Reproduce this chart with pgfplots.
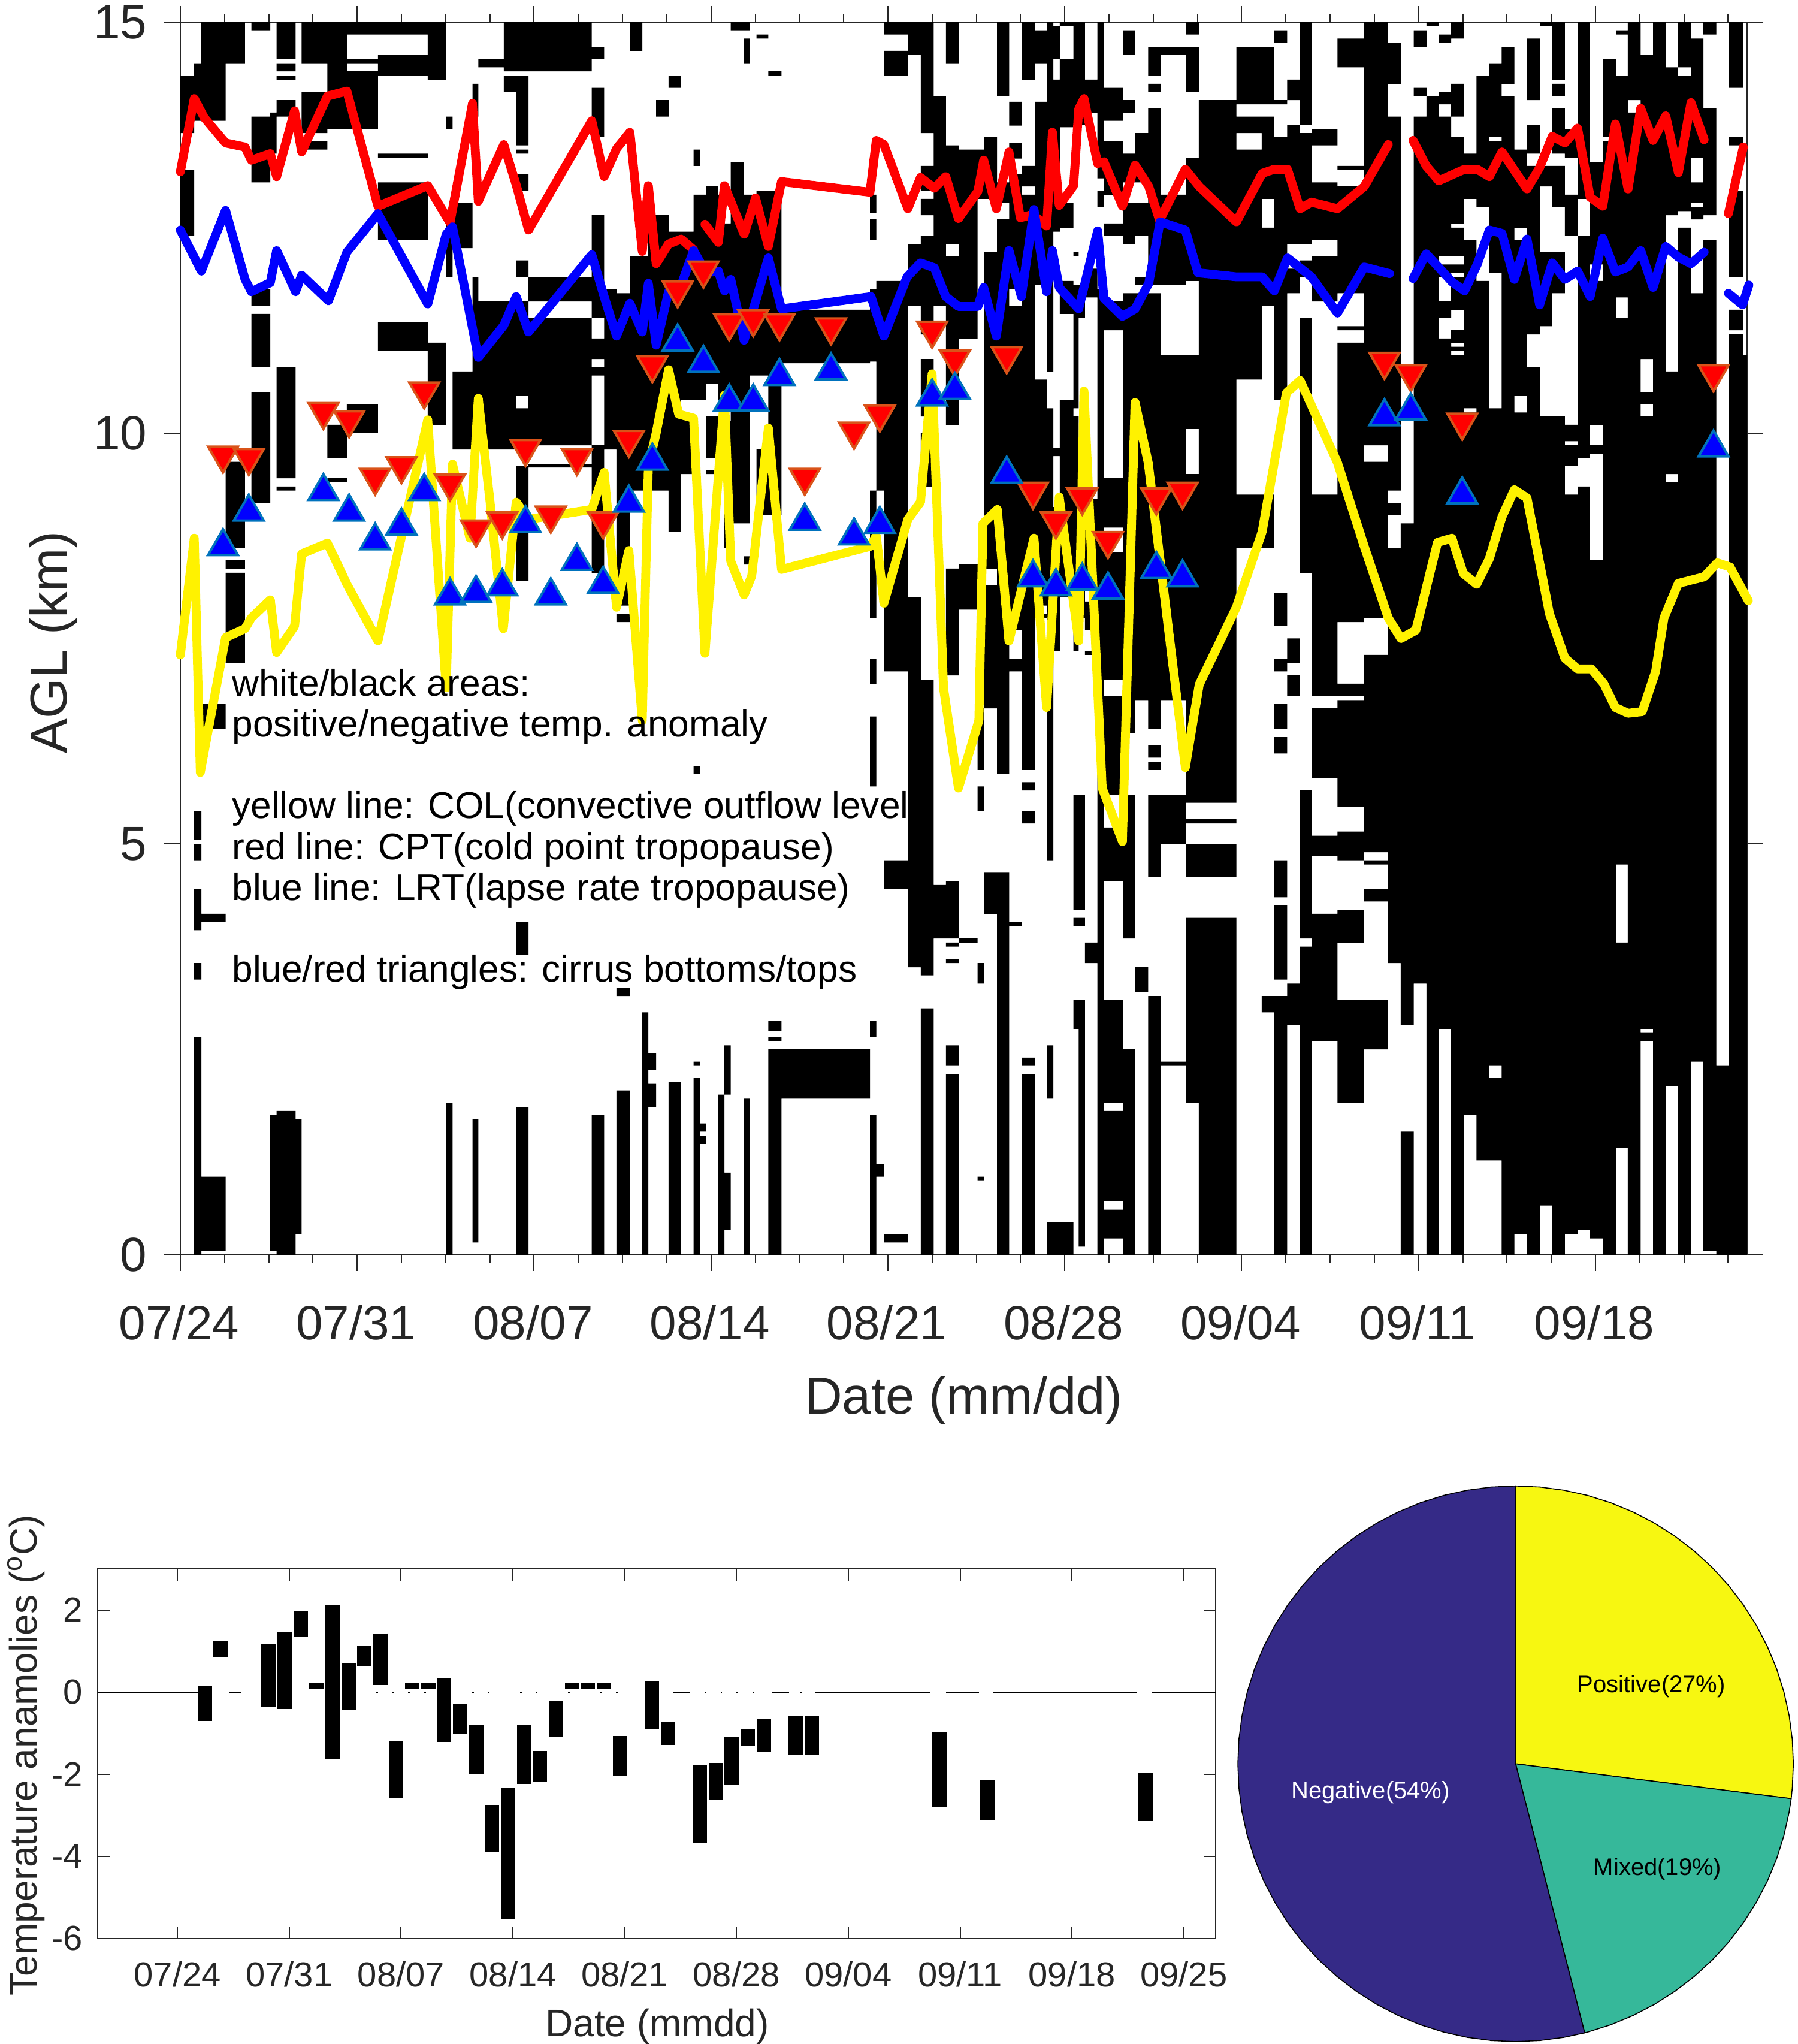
\documentclass[border=0pt]{standalone}
\usepackage{fontspec}
\setmainfont{Liberation Sans}
\usepackage{pgfplots}
\pgfplotsset{compat=1.18}
\usetikzlibrary{plotmarks}
\definecolor{axgray}{gray}{0.15}
\definecolor{pieblue}{RGB}{53,42,135}
\definecolor{pieteal}{RGB}{54,184,154}
\definecolor{pieyellow}{RGB}{247,247,17}
\definecolor{redge}{RGB}{217,83,25}
\definecolor{bedge}{RGB}{0,114,189}

% black cells of the anomaly image: from day / to day / {top km / bottom km, ...}
\def\cells{
0/.55/{14.35/13.65,13.2/12.4},
.55/.83/{14.5/13.8,5.4/5.05,5/4.8,4.45/3.95,3.55/3.35,2.65/0},
.83/1.79/{15/13.8,6.7/6.4,4.15/4.05,.95/.05},
1.79/2.56/{15/14.5,9.65/8.6,8.45/8.35,8.3/7.2},
2.81/3.56/{15/14.9,13.85/13.05,11.75/11.55,11.45/10.8,10.5/9.15},
3.56/3.81/{13.9/13.4,1.7/.05},
3.81/4.56/{15/14.55,14.5/14.4,14.35/14.3,14.05/13.85,10.8/9.45,9.35/9.3,1.75/0},
4.56/4.8/{1.65/.25},
4.8/5.82/{15/14.5,14.15/13.65,13.55/13.45},
5.82/6.59/{15/13.7,10.1/9.7,9.45/9.4},
6.59/7.82/{15/14.85,14.55/14.5,14.4/13.7,10.35/10},
7.82/9.79/{15/14.85,14.6/14.35,13.4/13.35,13.05/12.35,11.35/11},
9.79/10.52/{15/14.3,11.1/10.1},
10.52/10.77/{13.85/13.7,12.65/11.9,1.85/0},
10.77/11.56/{12.8/12.25,10.75/9.8},
11.56/11.79/{14.25/13.85,11.9/9.8,1.65/.15},
11.79/12.8/{14.55/14.45,11.6/9.8},
12.8/13.29/{15/14.4,14.35/14.15,11.6/9.8},
13.29/13.78/{15/14.4,14.35/13.5,13.45/13.4,13.15/12.95,12.1/11.9,11.6/10.45,10.3/9.8,9.6/8.2,4.05/3.65,1.8/0},
13.78/16.28/{15/14.4,11.9/11.6,11.4/9.85,9.62/9.58},
16.28/16.77/{14.7/14.55,14.2/13.6,12.65/11.4,11.15/10.9,10.8/10.7,9.85/8.3,1.7/0},
16.77/17.26/{11.75/9.8},
17.26/17.79/{11.7/7.9,7.8/7.7,3.25/3.15,2/0},
17.79/18.28/{15/14.65,12.15/9.3},
18.28/18.52/{12.15/9.3,2.95/0},
18.52/18.83/{12.65/9.3,2.45/2.25,2.08/1.8},
18.83/19.32/{14.05/13.85,12.65/9.3},
19.32/19.82/{14.35/14.2,12.45/8.8,2.1/0},
19.82/20.31/{12.45/10.4,10.2/9.5},
20.31/20.56/{13.45/13.25,12.9/10.4,5.95/5.85,2.35/2.3,2.15/0},
20.56/20.8/{12.9/10.4,1.6/1.5,1.45/1.35},
20.8/21.29/{13/10.6,10.2/9.7,9.55/9.5},
21.29/21.53/{12.9/10.4,1.95/0},
21.53/21.78/{12.55/10.4,10.15/8.6,2.55/1.95,1/.3},
21.78/22.31/{15/14.9,13.3/8.9},
22.31/22.53/{15/14.9,14.8/14.5,12.9/8.9,8.5/8.4,1.9/0},
22.53/22.8/{12.9/10.7},
22.8/23.27/{14.85/14.8,12.95/10.7,9.8/9},
23.27/23.79/{14.4/14.35,12.95/9,2.85/2.72,2.65/2.6,2.5/0},
23.79/27.29/{11.5/10.85,2.5/1.9},
27.29/27.54/{12.9/12.68,12.6/12.35,11.75/10.87,9.3/7.75,7.25/6.95,6.55/5.7,2.85/2.65,1.7/0},
27.54/27.84/{11.85/9.3,1.1/.95},
27.84/28.8/{15/14.85,14.65/14.35,11.85/7.1,4.8/4.45,.25/.15},
28.8/29.3/{15/14.6,12.3/11.55,8/3.5},
29.3/29.81/{15/13.65,13.25/12.95,12.85/12.65,12.4/11.2,10.9/10.2,10/9.35,7/3.4,3/0},
29.81/30.3/{14.1/11.55,4.5/3.85},
30.3/30.8/{15/14.5,13.5/12.3,12.15/10.1,8.35/7.05,4.55/3.85,3.8/3.75,3.6/3.55,2.55/2.3,2.2/0},
30.8/31.55/{13.45/11.15,8.4/7.85,3.85/3.8},
31.55/31.8/{13.45/12.85,8.4/7.85,6.65/5.9,5.7/5.4,3.55/3.3,.95/.9},
31.8/32.32/{13.6/12.85,12.2/8.35,8.15/6.65,4.65/4.15},
32.32/32.8/{15/14.1,13.05/12.8,12.6/5.85,4.65/0},
32.8/33.29/{14.03/13.74,13.53/13.34,13.15/11.75,11.55/7.6,7.25/7.1,4.05/4},
33.29/33.81/{15/14.3,13.25/13,12.9/5.9,5.75/5.65,5.4/5.25,2.4/2.3,2.2/0},
33.81/34.3/{14.9/14.5,14.03/11.8,10.65/7.9,7.8/7.75},
34.3/34.55/{15/10.75,10.3/4.8,2.55/1.9,.4/0},
34.55/34.8/{14.95/14.55,14.3/12.45,9.82/9.72,9.1/7.35,.4/0},
34.8/35.34/{15/14.95,14.55/13.72,12.8/12.5,11.85/11.45,10.4/8,.4/0},
35.34/35.55/{15/13.75,12.2/12.15,11.8/10.3,10.2/7.35,5.6/4.2,4.1/4,3.1/2.75},
35.55/35.8/{15/13.75,11.8/11.4,9/7.75,5.6/4.2,4.1/4,3.1/.1},
35.8/36.29/{14.3/13.9,12/11.65,9.2/8.1,7.95/7.6,7.35/7.3,3.8/3.55},
36.29/36.54/{15/13.1,12.95/12.75,11.75/0},
36.54/37.3/{14.2/13.8,13.55/12.9,12.55/12.4,11.6/11.25,9.45/8.85,8.55/7,6.8/5.6,5.2/4.55,3.1/1.85,1.75/.65,.55/.2},
37.3/37.79/{14.9/14.6,14.05/13.9,13.4/13.05,12.8/12.3,11.7/6.35,5.6/3.85,2.5/0},
37.79/38.3/{13.65/13.05,12.8/12.4,11.9/11.8,11.7/6.75,3.5/3.2},
38.3/38.79/{14.7/14.35,14.25/14.15,13.95/11.8,11.7/6.4,6.2/6.05,6/5.9,5.6/4.6,3.15/0},
38.79/39.8/{14.7/14.6,12.9/11.8,10.95/6.75,5.6/5,2.35/2.3},
39.8/40.3/{15/14.85,14.7/14.15,13.35/11.85,10.95/10.05,9.5/5.5,5.3/5.25,5/4.6,4.1/1.85},
40.3/41.79/{14.05/5.5,5.3/5.25,5/4.6,4.1/0},
41.79/42.79/{14.7/14,13.85/13.65,13.45/10.65,9.25/8.6},
42.79/43.29/{14.7/14,13.85/12.85,12.5/11.55,9.25/8.6,3.15/2.95},
43.29/43.8/{14.9/14.75,14.05/14,13.6/10.4,8.05/7.65,7.25/7.1,6.7/6.4,6.3/6.1,4.8/4.35,4.25/3.35,3.15/0},
43.8/44.29/{14.3/14.05,13.75/12.3,12/11.7,7.5/7.2,7.05/6.8,3.3/2.8},
44.29/44.78/{15/13.75,13.65/12.3,12.1/11.9,11.4/8.3,5.65/3.85,3.75/0},
44.78/45.79/{13.7/13.5,13.05/12.35,12.15/11.6,9.25/6.8,6.65/5.8,5.1/4.85,4.15/2.6},
45.79/46.83/{14.8/14.45,13.25/13.2,13/11.7,11.3/11.25,11.1/7.7,6.95/6.8,6.75/5.45,5.15/4.8,4.2/3.8,3.1/1.85},
46.83/47.79/{15/9.85,9.65/7.75,7.3/4.9,4.8/4.75,4.45/4.3,3.1/2.5},
47.79/48.29/{14.75/14.25,13.85/9.3,9.15/9,8.6/3.55},
48.29/48.81/{8.9/2.8,1.5/0},
48.81/49.31/{14.9/14.7,14.2/14.1,13.85/3.3},
49.31/49.8/{15/14.95,14.1/0},
49.8/50.29/{14.85/14.75,14.15/14,13.85/12.15,12.05/11.9,11.6/11.4,11.15/2.75},
50.29/50.79/{15/14.8,14.25/13.85,13.6/12.55,12.5/12.15,12.05/11.95,11.9/11.5,11.25/11.1,11.05/11,10.95/0},
50.79/51.29/{13.4/12.85,12.35/10.3,10.25/1.7},
51.29/51.79/{14.35/12.75,11.85/1.15},
51.79/52.29/{14.5/13.6,13.55/11.95,10.3/2.3,2.15/1.15},
52.29/52.79/{14.7/14.25,14.1/0},
52.79/53.29/{13.45/12.5,12.35/10.45,10.25/.25},
53.29/53.8/{14.8/14.05,13.75/13.4,13.25/11.2,10.8/0},
53.8/54.28/{15/14.95,13.25/13,12.2/11.3,10.2/.6},
54.28/54.79/{15/14.3,14.25/14.1,13.95/13.4,13.25/12.75,12.2/11.7,10.2/0},
54.79/55.3/{13.7/13.35,12.9/12.4,10.1/9.9,9.85/9.6,9.25/.25},
55.3/55.78/{15/12.85,12.4/9.7,9.35/.3},
55.78/56.29/{13.3/12.05,11.85/10.1,9.85/9.75,8.45/.2},
56.29/56.82/{14.55/13.6,13.55/0},
56.82/57.28/{14.9/14.85,14.35/11.65,11.4/4.75,3.8/1.3},
57.28/57.79/{15/14.05,13.9/0},
57.79/58.28/{14.6/10.9,10.5/10.35,10.2/2.75,2.7/2.6},
58.28/58.79/{15/0},
58.79/59.27/{14.45/12.65,10.75/9.5,9.4/2.05},
59.27/59.78/{15/14.45,14.35/12.7,12.5/0},
59.78/60.27/{14.8/13.35,13.05/12.8,12.75/12.6,11.7/2.35},
60.27/60.78/{15/14.85,13.95/12.65,12.35/.05},
60.78/61.28/{2.3/0},
61.28/61.83/{15/14.2,13.6/13.5,12.95/11.9,11.5/11.25,11.2/0},
61.83/62/{10.95/0}}

\gdef\rects{}
\foreach \a/\b/\s in \cells {
  \foreach \c/\d in \s {
    \xdef\rects{\rects(\a,\c)(\b,\c)(\b,\d)(\a,\d)(\a,nan)}
  }
}
\newcommand{\plotcells}[1]{\addplot[fill=black,draw=none,unbounded coords=jump,forget plot] coordinates {#1};}

\begin{document}
\begin{tikzpicture}[x=1pt,y=1pt]
\path[use as bounding box] (0,0) rectangle (750,852.75);

% main panel
\begin{axis}[
    at={(75.25pt,329.25pt)}, anchor=south west,
    scale only axis, width=653.75pt, height=514.25pt,
    xmin=0, xmax=62, ymin=0, ymax=15,
    clip=false,
    axis line style={axgray,line width=0.5pt},
    tick style={axgray,line width=0.5pt},
    tick align=outside, xtick pos=both, ytick pos=both,
    major tick length=6.75pt, minor tick length=3.5pt,
    xtick={0,7,14,21,28,35,42,49,56},
    xticklabels={07/24,07/31,08/07,08/14,08/21,08/28,09/04,09/11,09/18},
    minor xtick={0,1.75,...,61.25},
    ytick={0,5,10,15}, yticklabels={0,5,10,15},
    tick label style={font=\fontsize{20}{24}\selectfont,text=axgray},
    xticklabel style={yshift=-10.7pt,xshift=-0.5pt},
    yticklabel style={xshift=-3.6pt},
    xlabel={Date (mm/dd)}, ylabel={AGL (km)},
    label style={font=\fontsize{21.7}{26}\selectfont,text=axgray},
    xlabel style={at={(axis description cs:0.5,-0.1182)},anchor=center},
    ylabel style={at={(axis description cs:-0.0812,0.4968)},anchor=center,rotate=0},
]
\expandafter\plotcells\expandafter{\rects}

% CPT
\addplot[red,line width=3.7pt,line join=round,line cap=round,unbounded coords=jump] coordinates {
(0,13.18)(.55,14.07)(.94,13.84)(1.79,13.53)(2.56,13.48)(2.81,13.32)(3.56,13.4)(3.81,13.12)(4.52,13.92)(4.8,13.42)
(5.82,14.1)(6.59,14.16)(7.82,12.76)(9.79,13.01)(10.67,12.56)(11.56,14.01)(11.79,12.82)(12.8,13.51)(13.29,13.02)(13.78,12.47)
(16.28,13.8)(16.77,13.12)(17.26,13.46)(17.79,13.66)(18.28,12.21)(18.52,13.01)(18.83,12.06)(19.32,12.3)(19.82,12.36)(20.31,12.23)
(20.5,nan)
(20.76,12.54)(21.29,12.32)(21.53,13.01)(22.31,12.42)(22.76,12.86)(23.27,12.27)(23.79,13.06)(27.29,12.93)(27.54,13.56)(27.84,13.51)
(28.79,12.73)(29.29,13.11)(29.84,12.98)(30.29,13.12)(30.79,12.61)(31.56,12.94)(31.79,13.32)(32.29,12.73)(32.79,13.42)(33.24,12.62)
(33.74,12.66)(34.28,12.52)(34.51,13.66)(34.78,12.77)(35.35,13.01)(35.55,13.94)(35.76,14.07)(36.3,13.28)(36.55,13.3)(37.28,12.76)
(37.78,13.26)(38.32,13)(38.75,12.59)(39.77,13.21)(40.32,13)(41.79,12.57)(42.81,13.16)(43.29,13.21)(43.81,13.21)(44.31,12.73)
(44.76,12.81)(45.79,12.73)(46.85,13)(47.8,13.51)
(48.3,nan)
(48.78,13.56)(49.3,13.25)(49.8,13.07)(50.82,13.21)(51.32,13.21)(51.8,13.12)(52.3,13.42)(53.29,12.97)(53.79,13.23)(54.29,13.61)
(54.79,13.53)(55.29,13.71)(55.79,12.87)(56.29,12.76)(56.79,13.76)(57.29,12.97)(57.79,13.95)(58.28,13.56)(58.78,13.86)(59.28,13.17)
(59.78,14.02)(60.3,13.57)
(60.8,nan)
(61.26,12.67)(61.85,13.48)
};
% LRT
\addplot[blue,line width=3.7pt,line join=round,line cap=round,unbounded coords=jump] coordinates {
(0,12.47)(.83,11.97)(1.79,12.71)(2.56,11.87)(2.81,11.72)(3.56,11.83)(3.81,12.22)(4.56,11.72)(4.8,11.92)(5.86,11.61)
(6.59,12.2)(7.82,12.67)(9.79,11.57)(10.52,12.42)(10.77,12.51)(11.79,10.92)(12.8,11.31)(13.29,11.66)(13.78,11.23)(16.28,12.17)
(16.77,11.66)(17.26,11.18)(17.79,11.58)(18.28,11.23)(18.52,11.82)(18.83,11.07)(19.32,11.72)(19.82,11.8)(20.31,12.22)(20.8,11.95)
(21.29,11.97)(21.53,11.73)(21.78,11.87)(22.31,11.13)(23.27,12.13)(23.79,11.51)(27.33,11.66)(27.84,11.18)(28.76,11.9)(29.29,12.07)
(29.84,12.01)(30.29,11.66)(30.79,11.54)(31.56,11.54)(31.79,11.77)(32.29,11.18)(32.79,12.22)(33.28,11.66)(33.78,12.72)(34.28,11.72)
(34.51,12.22)(34.78,11.77)(35.55,11.51)(36.3,12.46)(36.55,11.64)(37.28,11.42)(37.78,11.51)(38.32,11.82)(38.77,12.57)(39.77,12.47)
(40.27,11.95)(41.79,11.9)(42.81,11.9)(43.29,11.73)(43.81,12.13)(44.76,11.9)(45.79,11.46)(46.85,12.02)(47.85,11.94)
(48.3,nan)
(48.78,11.88)(49.3,12.18)(50.32,11.84)(50.82,11.73)(51.32,12.05)(51.8,12.47)(52.3,12.43)(52.79,11.87)(53.29,12.36)(53.79,11.56)
(54.29,12.07)(54.79,11.87)(55.29,11.97)(55.79,11.66)(56.29,12.37)(56.79,11.96)(57.29,12.02)(57.79,12.22)(58.28,11.77)(58.78,12.27)
(59.28,12.14)(59.78,12.06)(60.3,12.2)
(60.8,nan)
(61.26,11.7)(61.82,11.56)(62.07,11.8)
};
% COL
\addplot[yellow,line width=3.7pt,line join=round,line cap=round] coordinates {
(0,7.3)(.55,8.72)(.79,5.87)(1.79,7.51)(2.56,7.62)(2.81,7.75)(3.56,7.97)(3.81,7.33)(4.52,7.65)(4.8,8.53)
(5.82,8.66)(6.59,8.16)(7.82,7.47)(9.79,10.16)(10.52,6.9)(10.77,9.62)(11.46,8.72)(11.79,10.42)(12.25,9.18)(12.78,7.62)
(13.29,9.16)(13.78,8.95)(16.28,9.07)(16.77,9.52)(17.26,7.88)(17.75,8.57)(18.28,6.5)(18.52,9.59)(18.83,10)(19.32,10.77)
(19.72,10.23)(20.31,10.18)(20.76,7.32)(21.53,10.46)(21.78,8.44)(22.31,8.03)(22.61,8.26)(23.27,10.06)(23.79,8.34)(27.29,8.62)
(27.54,8.75)(27.84,7.93)(28.79,8.95)(29.29,9.16)(29.75,10.72)(30.2,6.9)(30.79,5.68)(31.6,6.5)(31.76,8.9)(32.33,9.07)
(32.79,7.47)(33.78,8.72)(34.28,6.66)(34.78,9.22)(35.55,7.47)(35.76,10.51)(36.48,5.68)(37.28,5.03)(37.78,10.37)(38.3,9.64)
(39.77,5.93)(40.32,6.94)(41.79,7.88)(42.81,8.8)(43.77,10.49)(44.31,10.64)(45.79,9.64)(46.85,8.62)(47.8,7.75)(48.3,7.5)
(48.89,7.6)(49.75,8.67)(50.32,8.72)(50.77,8.29)(51.3,8.16)(51.8,8.47)(52.3,8.98)(52.79,9.31)(53.29,9.21)(54.18,7.8)
(54.79,7.26)(55.29,7.13)(55.84,7.13)(56.33,6.95)(56.79,6.66)(57.29,6.59)(57.85,6.61)(58.38,7.1)(58.71,7.75)(59.28,8.17)
(60.3,8.25)(60.82,8.42)(61.32,8.37)(62.05,7.96)
};
% cirrus tops
\addplot[only marks,mark=triangle*,mark size=7.2pt,mark options={rotate=180,fill=red,draw=redge,line width=1pt}] coordinates {
(1.69,9.73)(2.71,9.7)(5.66,10.26)(6.68,10.16)(7.71,9.46)(8.75,9.6)(9.65,10.51)(10.67,9.39)(11.7,8.83)(12.74,8.93)
(13.66,9.81)(14.66,9)(15.69,9.7)(16.73,8.93)(17.75,9.92)(18.68,10.83)(19.68,11.74)(20.7,11.98)(21.72,11.34)(22.67,11.39)
(23.71,11.34)(24.71,9.46)(25.75,11.29)(26.66,10.02)(27.68,10.23)(29.75,11.25)(30.65,10.9)(32.7,10.94)(33.74,9.29)(34.65,8.93)
(35.69,9.22)(36.71,8.69)(38.62,9.22)(39.66,9.29)(47.65,10.87)(48.69,10.72)(50.73,10.13)(60.67,10.72)
};
% cirrus bottoms
\addplot[only marks,mark=triangle*,mark size=7.2pt,mark options={fill=blue,draw=bedge,line width=1pt}] coordinates {
(1.69,8.62)(2.71,9.04)(5.66,9.29)(6.68,9.04)(7.71,8.69)(8.75,8.87)(9.65,9.29)(10.67,8.02)(11.7,8.05)(12.74,8.13)
(13.66,8.9)(14.66,8.02)(15.69,8.44)(16.73,8.16)(17.75,9.15)(18.68,9.66)(19.68,11.11)(20.7,10.85)(21.72,10.38)(22.67,10.38)
(23.71,10.69)(24.71,8.93)(25.75,10.76)(26.66,8.75)(27.68,8.89)(29.75,10.44)(30.65,10.52)(32.7,9.5)(33.74,8.24)(34.65,8.13)
(35.69,8.2)(36.71,8.09)(38.62,8.34)(39.66,8.24)(47.65,10.2)(48.69,10.27)(50.73,9.25)(60.67,9.82)
};
\node[anchor=north west,inner sep=0pt,align=left,font=\fontsize{15.55}{17.05}\selectfont] at (axis cs:2.03,7.135) {white/black areas:\\
positive/negative temp. anomaly\\
~\\
yellow line: COL(convective outflow level)\\
red line: CPT(cold point tropopause)\\
blue line: LRT(lapse rate tropopause)\\
~\\
blue/red triangles: cirrus bottoms/tops};
\draw[axgray,line width=0.5pt] (rel axis cs:1,0) -- ++(6.75pt,0);
\draw[axgray,line width=0.5pt] (rel axis cs:1,1) -- ++(6.75pt,0);
\end{axis}

% anomaly bars
\begin{axis}[
    at={(40.75pt,44pt)}, anchor=south west,
    scale only axis, width=466.5pt, height=154.25pt,
    xmin=-5, xmax=65, ymin=-6, ymax=3,
    axis line style={axgray,line width=0.5pt},
    tick style={axgray,line width=0.5pt},
    tick align=inside, xtick pos=both, ytick pos=both,
    major tick length=5pt,
    xtick={0,7,14,21,28,35,42,49,56,63},
    xticklabels={07/24,07/31,08/07,08/14,08/21,08/28,09/04,09/11,09/18,09/25},
    ytick={-6,-4,-2,0,2}, yticklabels={-6,-4,-2,0,2},
    tick label style={font=\fontsize{14.5}{17}\selectfont,text=axgray},
    xticklabel style={yshift=-6.2pt},
    yticklabel style={xshift=-2.7pt},
    xlabel={Date (mmdd)}, ylabel={Temperature anamolies (\textsuperscript{o}C)},
    label style={font=\fontsize{16}{19}\selectfont,text=axgray},
    xlabel style={at={(axis description cs:0.5005,-0.238)},anchor=center},
    ylabel style={at={(axis description cs:-0.064,0.496)},anchor=center,rotate=0},
]
\addplot[black,line width=0.5pt,unbounded coords=jump] coordinates {
(-5,0)(1.3,0)(2,nan)(3.2,0)(4,0)(4.5,nan)
(12.45,0)(12.55,0)(13,nan)(13.45,0)(13.55,0)(14,nan)(14.45,0)(14.55,0)(15,nan)(15.45,0)(15.55,0)(16,nan)
(18.45,0)(18.55,0)(19,nan)(19.45,0)(19.55,0)(20,nan)(21.45,0)(21.55,0)(22,nan)(22.45,0)(22.55,0)(23,nan)
(24.45,0)(24.55,0)(25,nan)(26.45,0)(26.55,0)(27,nan)(27.45,0)(27.55,0)(28,nan)
(31,0)(32.1,0)(32.5,nan)(33,0)(33.1,0)(33.5,nan)(34,0)(34.1,0)(34.5,nan)(35,0)(35.1,0)(35.5,nan)(36,0)(36.1,0)(36.5,nan)
(37.2,0)(38.3,0)(38.6,nan)(39,0)(39.1,0)(39.5,nan)(39.9,0)(47.1,0)(47.6,nan)(48.1,0)(50.2,0)(50.6,nan)(51.1,0)(60.1,0)(60.5,nan)(61,0)(65,0)
};
\addplot[black,line width=6pt,line cap=butt,unbounded coords=jump] coordinates {
(1.7,.14)(1.7,-.71)(1.7,nan)(2.7,1.24)(2.7,.86)(2.7,nan)(5.7,1.17)(5.7,-.37)(5.7,nan)(6.7,1.47)(6.7,-.41)(6.7,nan)
(7.7,1.96)(7.7,1.35)(7.7,nan)(8.7,.21)(8.7,.08)(8.7,nan)(9.7,2.11)(9.7,-1.62)(9.7,nan)(10.7,.71)(10.7,-.44)(10.7,nan)
(11.7,1.12)(11.7,.63)(11.7,nan)(12.7,1.43)(12.7,.17)(12.7,nan)(13.7,-1.18)(13.7,-2.59)(13.7,nan)(14.7,.21)(14.7,.08)(14.7,nan)
(15.7,.21)(15.7,.08)(15.7,nan)(16.7,.34)(16.7,-1.22)(16.7,nan)(17.7,-.29)(17.7,-1.02)(17.7,nan)(18.7,-.8)(18.7,-2.01)(18.7,nan)
(19.7,-2.75)(19.7,-3.9)(19.7,nan)(20.7,-2.34)(20.7,-5.53)(20.7,nan)(21.7,-.81)(21.7,-2.24)(21.7,nan)(22.7,-1.44)(22.7,-2.2)(22.7,nan)
(23.7,-.21)(23.7,-1.09)(23.7,nan)(24.7,.21)(24.7,.08)(24.7,nan)(25.7,.21)(25.7,.08)(25.7,nan)(26.7,.21)(26.7,.08)(26.7,nan)
(27.7,-1.07)(27.7,-2.03)(27.7,nan)(29.7,.27)(29.7,-.89)(29.7,nan)(30.7,-.74)(30.7,-1.29)(30.7,nan)(32.7,-1.79)(32.7,-3.68)(32.7,nan)
(33.7,-1.73)(33.7,-2.61)(33.7,nan)(34.7,-1.1)(34.7,-2.27)(34.7,nan)(35.7,-.9)(35.7,-1.31)(35.7,nan)(36.7,-.66)(36.7,-1.47)(36.7,nan)
(38.7,-.58)(38.7,-1.54)(38.7,nan)(39.7,-.58)(39.7,-1.53)(39.7,nan)(47.7,-.98)(47.7,-2.81)(47.7,nan)(50.7,-2.14)(50.7,-3.13)(50.7,nan)
(60.6,-1.97)(60.6,-3.14)
};
\end{axis}

% pie: (angle, radius)
\begin{axis}[
    at={(516.5pt,1pt)}, anchor=south west,
    scale only axis, width=231.8pt, height=231.8pt,
    xmin=-1, xmax=1, ymin=-1, ymax=1,
    hide axis, clip=false,
]
\addplot[fill=pieyellow,draw=black,line width=0.4pt,data cs=polar] coordinates {
(0,0)(90,1)(85,1)(80,1)(75,1)(70,1)(65,1)(60,1)(55,1)(50,1)(45,1)(40,1)(35,1)(30,1)(25,1)(20,1)(15,1)(10,1)(5,1)(0,1)(-5,1)(-7.2,1)(0,0)
};
\addplot[fill=pieteal,draw=black,line width=0.4pt,data cs=polar] coordinates {
(0,0)(-7.2,1)(-10,1)(-15,1)(-20,1)(-25,1)(-30,1)(-35,1)(-40,1)(-45,1)(-50,1)(-55,1)(-60,1)(-65,1)(-70,1)(-75,1)(-75.6,1)(0,0)
};
\addplot[fill=pieblue,draw=black,line width=0.4pt,data cs=polar] coordinates {
(0,0)(-75.6,1)(-80,1)(-85,1)(-90,1)(-95,1)(-100,1)(-105,1)(-110,1)(-115,1)(-120,1)(-125,1)(-130,1)(-135,1)(-140,1)(-145,1)(-150,1)(-155,1)(-160,1)(-165,1)(-170,1)(-175,1)(-180,1)(-185,1)(-190,1)(-195,1)(-200,1)(-205,1)(-210,1)(-215,1)(-220,1)(-225,1)(-230,1)(-235,1)(-240,1)(-245,1)(-250,1)(-255,1)(-260,1)(-265,1)(-270,1)(0,0)
};
\node[font=\fontsize{10}{12}\selectfont] at (axis cs:.489,.278) {Positive(27\%)};
\node[font=\fontsize{10}{12}\selectfont,text=white] at (axis cs:-.522,-.103) {Negative(54\%)};
\node[font=\fontsize{10}{12}\selectfont] at (axis cs:.511,-.379) {Mixed(19\%)};
\end{axis}
\end{tikzpicture}
\end{document}
